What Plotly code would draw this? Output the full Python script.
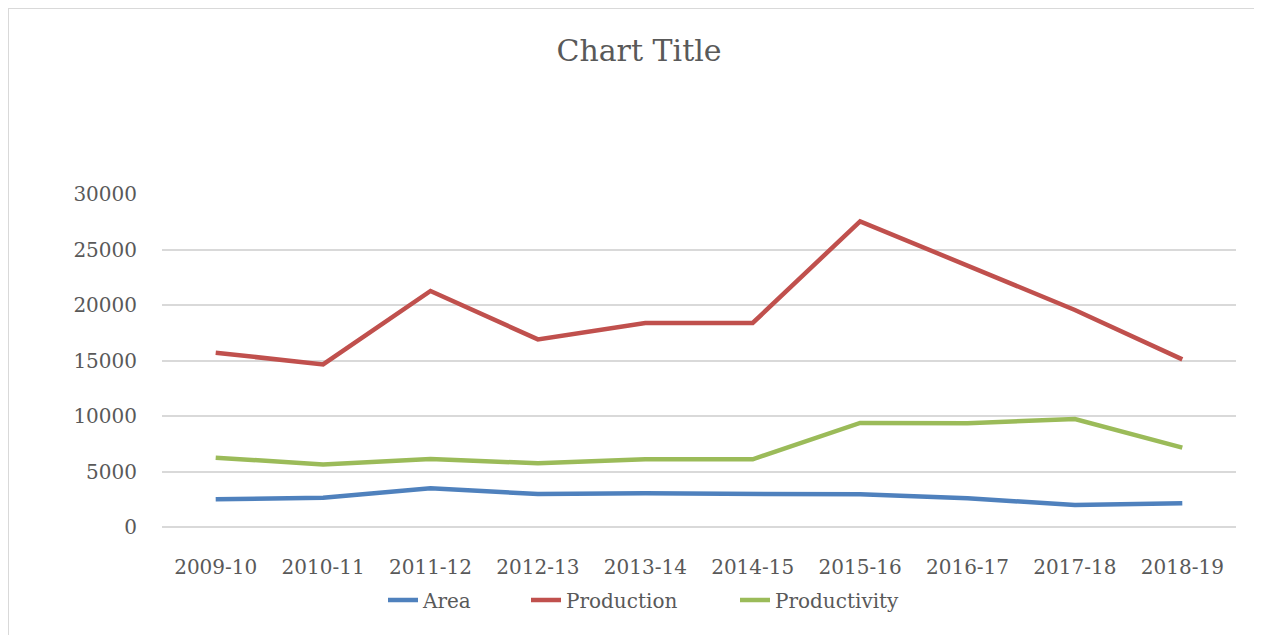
import plotly.graph_objects as go

years = ["2009-10", "2010-11", "2011-12", "2012-13", "2013-14",
         "2014-15", "2015-16", "2016-17", "2017-18", "2018-19"]
area = [2490, 2640, 3480, 2970, 3030, 3030, 2940, 2580, 1980, 2130]
production = [15700, 14650, 21260, 16900, 18380, 18380, 27540, 23540, 19550, 15100]
productivity = [6250, 5640, 6130, 5740, 6100, 6100, 9370, 9350, 9730, 7150]

W, H = 1262, 635
OFF = 8  # page body margin
L, R, T, B = 162 - OFF, 1262 - (1236 - OFF), 194 - OFF, 635 - (527 - OFF)

font_family = "DejaVu Serif"
txt_color = "#595959"

pw = W - L - R
ph = H - T - B
def px_x(p):  # screen px -> paper
    return (p - OFF - L) / pw
def px_y(p):
    return (H - B - (p - OFF)) / ph

series = [("Area", area, "#4F81BD", "legend", 423),
          ("Production", production, "#C0504D", "legend2", 566),
          ("Productivity", productivity, "#9BBB59", "legend3", 775)]

fig = go.Figure()
legend_defs = {}
for name, vals, col, lg, text_x in series:
    fig.add_trace(go.Scatter(x=years, y=vals, name=name, mode="lines",
                             legend=lg, line=dict(color=col, width=4.5)))
    legend_defs[lg] = dict(orientation="h", x=px_x(text_x - 40), xanchor="left",
                           y=px_y(600), yanchor="middle",
                           font=dict(family=font_family, size=20, color=txt_color),
                           bgcolor="rgba(0,0,0,0)")

fig.update_layout(
    width=W, height=H,
    margin=dict(l=L, r=R, t=T, b=B),
    paper_bgcolor="white", plot_bgcolor="white",
    font=dict(family=font_family, size=20, color=txt_color),
    title=dict(text="Chart Title", x=0.5, xanchor="center",
               y=1 - (50 - OFF) / H, yanchor="middle",
               font=dict(family=font_family, size=30, color=txt_color)),
    showlegend=True,
    **legend_defs,
    xaxis=dict(type="category", range=[-0.5, 9.5], showgrid=False,
               showline=False, zeroline=False, ticks="",
               ticklabelstandoff=26, tickfont=dict(size=20)),
    yaxis=dict(range=[0, 30000], dtick=5000, tick0=0, showgrid=True,
               gridcolor="#D9D9D9", gridwidth=1.5, zeroline=True,
               zerolinecolor="#D9D9D9", zerolinewidth=1.5,
               showline=False, ticks="", ticklabelstandoff=24,
               tickformat="d", tickfont=dict(size=20)),
    shapes=[dict(type="rect", xref="paper", yref="paper",
                 x0=px_x(8), x1=px_x(1257), y0=px_y(650), y1=px_y(8),
                 line=dict(color="#D9D9D9", width=2), fillcolor="rgba(0,0,0,0)",
                 layer="below")],
)

fig.write_html("out.html")
